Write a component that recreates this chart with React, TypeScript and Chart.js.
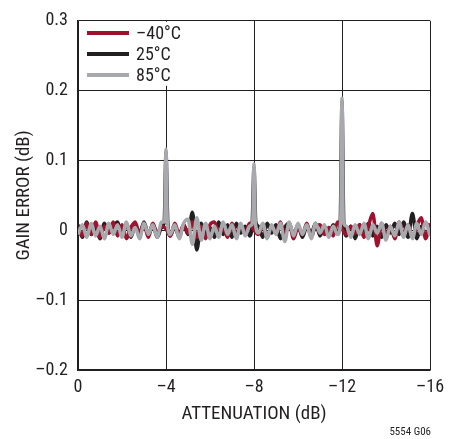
import React, { useEffect, useRef } from 'react';
import { Chart, registerables } from 'chart.js';

Chart.register(...registerables);

// Attenuation sweep (dB)
const attenuation = [
  0, -0.2, -0.4, -0.6, -0.8, -1, -1.2, -1.4, -1.6, -1.8,
  -2, -2.2, -2.4, -2.6, -2.8, -3, -3.2, -3.4, -3.6, -3.8,
  -4, -4.2, -4.4, -4.6, -4.8, -5, -5.2, -5.4, -5.6, -5.8,
  -6, -6.2, -6.4, -6.6, -6.8, -7, -7.2, -7.4, -7.6, -7.8,
  -8, -8.2, -8.4, -8.6, -8.8, -9, -9.2, -9.4, -9.6, -9.8,
  -10, -10.2, -10.4, -10.6, -10.8, -11, -11.2, -11.4, -11.6, -11.8,
  -12, -12.2, -12.4, -12.6, -12.8, -13, -13.2, -13.4, -13.6, -13.8,
  -14, -14.2, -14.4, -14.6, -14.8, -15, -15.2, -15.4, -15.6, -15.8,
  -16,
];

// Gain error (dB) at -40°C
const errM40 = [
  0.004, -0.008, 0.010, -0.006, 0.012, -0.010, 0.006, -0.004, 0.012, -0.008,
  0.008, -0.012, 0.004, 0.012, -0.006, 0.008, -0.010, 0.010, -0.004, 0.006,
  0.002, -0.008, 0.010, -0.006, 0.008, -0.004, 0.012, -0.010, 0.006, -0.012,
  0.008, 0.012, -0.006, 0.004, -0.010, 0.010, -0.006, 0.008, -0.004, 0.010,
  0.000, -0.006, 0.008, -0.010, 0.006, -0.004, 0.012, -0.008, 0.010, -0.012,
  0.004, -0.006, 0.010, -0.010, 0.006, 0.008, -0.006, 0.004, -0.008, 0.012,
  0.002, -0.006, 0.006, -0.004, 0.008, -0.010, 0.006, 0.024, -0.022, 0.010,
  -0.008, 0.006, -0.012, 0.012, -0.006, 0.008, -0.010, 0.006, 0.018, -0.012,
  0.010,
];

// Gain error (dB) at 25°C
const err25 = [
  0.008, -0.010, 0.012, -0.006, 0.004, -0.012, 0.010, -0.004, 0.006, 0.012,
  -0.008, 0.010, -0.010, 0.006, -0.004, 0.012, -0.006, 0.008, -0.010, 0.004,
  0.004, -0.008, 0.006, -0.010, 0.008, -0.006, 0.026, -0.028, 0.010, -0.006,
  0.004, -0.010, 0.012, -0.006, 0.008, -0.010, 0.010, -0.004, 0.006, -0.008,
  0.002, 0.006, -0.010, 0.010, -0.004, 0.008, -0.012, 0.004, 0.010, -0.006,
  0.008, -0.010, 0.006, -0.004, 0.010, -0.008, 0.004, -0.006, 0.008, -0.004,
  0.002, -0.008, 0.006, -0.012, 0.008, -0.004, 0.010, -0.008, 0.006, -0.010,
  0.008, -0.004, 0.010, -0.006, 0.012, -0.010, 0.024, -0.012, 0.006, -0.008,
  0.004,
];

// Gain error (dB) at 85°C
const err85 = [
  -0.006, 0.008, -0.010, 0.010, -0.008, 0.006, -0.012, 0.010, -0.006, 0.008,
  -0.010, 0.012, -0.008, 0.004, -0.012, 0.010, -0.006, 0.008, -0.010, 0.012,
  0.002, -0.006, 0.008, -0.012, 0.010, 0.016, -0.020, 0.018, -0.014, 0.010,
  -0.012, 0.006, -0.010, 0.012, -0.006, 0.008, -0.012, 0.010, -0.008, 0.006,
  0.002, -0.004, 0.010, -0.012, 0.008, -0.006, 0.010, -0.016, 0.012, -0.008,
  0.010, -0.006, 0.008, -0.012, 0.010, -0.004, 0.008, -0.010, 0.006, -0.006,
  0.002, 0.006, -0.010, 0.008, -0.006, 0.010, -0.012, 0.008, -0.004, 0.010,
  -0.014, 0.006, -0.008, 0.012, -0.010, 0.008, -0.012, 0.010, -0.006, 0.012,
  -0.008,
];

// Step-transition glitches
const spikeAt = [-4, -8, -12];
const spikeHalfWidth = [0.06, 0.07, 0.0];
const peakM40 = [0, 0, 0];
const peak25 = [0.112, 0.09, 0.184];
const peak85 = [0.116, 0.095, 0.189];
const shoulder = 0.012;

const seriesLabels = ['\u201340\u00B0C', '25\u00B0C', '85\u00B0C'];
const seriesColors = ['#a0112e', '#231f20', '#a7a9ac'];

const xTicks = [0, -4, -8, -12, -16];
const yTicks = [-0.2, -0.1, 0, 0.1, 0.2, 0.3];

const FONT = '"Liberation Sans Narrow", "Roboto Condensed", "Liberation Sans", Arial, sans-serif';
const INK = '#231f20';

function buildPoints(vals: number[], peaks: number[], hw: number) {
  const pts: { x: number; y: number }[] = attenuation.map((x, i) => ({ x, y: vals[i] }));
  spikeAt.forEach((sx, k) => {
    if (!peaks[k]) return;
    const idx = attenuation.findIndex((x) => Math.abs(x - sx) < 1e-9);
    if (idx >= 0) pts[idx] = { x: sx, y: peaks[k] };
    pts.push({ x: sx + hw, y: shoulder });
    pts.push({ x: sx - hw, y: shoulder });
  });
  pts.sort((a, b) => b.x - a.x);
  return pts;
}

const fmtNeg = (v: number, d: number) => {
  if (Math.abs(v) < 1e-9) return '0';
  const s = Math.abs(v).toFixed(d);
  return v < 0 ? '\u2013' + s : s;
};

const decorPlugin = {
  id: 'decor',
  afterDraw(chart: any) {
    const { ctx, chartArea } = chart;
    ctx.save();
    // legend
    ctx.fillStyle = '#ffffff';
    ctx.fillRect(chartArea.left + 1, chartArea.top + 1, 108, 64);
    const rowY = [33, 54, 75];
    seriesLabels.forEach((lab, i) => {
      ctx.strokeStyle = seriesColors[i];
      ctx.lineWidth = 4;
      ctx.beginPath();
      ctx.moveTo(87, rowY[i]);
      ctx.lineTo(129, rowY[i]);
      ctx.stroke();
      ctx.fillStyle = INK;
      ctx.font = `18px ${FONT}`;
      ctx.textAlign = 'left';
      ctx.textBaseline = 'middle';
      ctx.fillText(lab, 136, rowY[i] + 1);
    });
    // axis titles
    ctx.fillStyle = INK;
    ctx.font = `19px ${FONT}`;
    ctx.textAlign = 'center';
    ctx.textBaseline = 'middle';
    ctx.fillText('ATTENUATION (dB)', (chartArea.left + chartArea.right) / 2, 414);
    ctx.save();
    ctx.translate(24, (chartArea.top + chartArea.bottom) / 2);
    ctx.rotate(-Math.PI / 2);
    ctx.fillText('GAIN ERROR (dB)', 0, 0);
    ctx.restore();
    // figure id
    ctx.font = `11px ${FONT}`;
    ctx.textAlign = 'right';
    ctx.fillText('5554 G06', 431, 432);
    ctx.restore();
  },
};

export default function App() {
  const ref = useRef<HTMLCanvasElement | null>(null);
  useEffect(() => {
    if (!ref.current) return;
    const chart = new Chart(ref.current, {
      type: 'line',
      data: {
        datasets: [
          {
            label: seriesLabels[0],
            data: buildPoints(errM40, peakM40, 0.06),
            borderColor: seriesColors[0],
            order: 2,
          },
          {
            label: seriesLabels[1],
            data: buildPoints(err25, peak25, 0.08),
            borderColor: seriesColors[1],
            order: 3,
          },
          {
            label: seriesLabels[2],
            data: buildPoints(err85, peak85, 0.06),
            borderColor: seriesColors[2],
            order: 1,
          },
        ].map((d) => ({
          ...d,
          borderWidth: 3.5,
          pointRadius: 0,
          fill: false,
          cubicInterpolationMode: 'monotone' as const,
          tension: 0.4,
        })),
      },
      options: {
        animation: false,
        responsive: false,
        devicePixelRatio: 1,
        layout: { padding: { left: 0, top: 19, right: 29, bottom: 0 } },
        plugins: { legend: { display: false }, tooltip: { enabled: false } },
        scales: {
          x: {
            type: 'linear',
            min: -16,
            max: 0,
            reverse: true,
            afterFit: (s: any) => { s.height = 69; },
            afterBuildTicks: (s: any) => { s.ticks = xTicks.map((v) => ({ value: v })); },
            ticks: {
              color: INK,
              font: { family: FONT, size: 18 },
              padding: 7,
              maxRotation: 0,
              callback: (v: any) => fmtNeg(Number(v), 0),
            },
            grid: { color: INK, lineWidth: 1, drawTicks: false },
            border: { color: INK, width: 1.5 },
          },
          y: {
            type: 'linear',
            min: -0.2,
            max: 0.3,
            afterFit: (s: any) => { s.width = 78; },
            afterBuildTicks: (s: any) => { s.ticks = yTicks.map((v) => ({ value: v })); },
            ticks: {
              color: INK,
              font: { family: FONT, size: 18 },
              padding: 10,
              callback: (v: any) => fmtNeg(Number(v), 1),
            },
            grid: { color: INK, lineWidth: 1, drawTicks: false },
            border: { color: INK, width: 1.5 },
          },
        },
      },
      plugins: [decorPlugin],
    });
    return () => chart.destroy();
  }, []);
  return (
    <div style={{ position: 'fixed', left: 0, top: 0, width: 459, height: 439, background: '#fff' }}>
      <canvas ref={ref} width={459} height={439} style={{ width: 459, height: 439 }} />
    </div>
  );
}
